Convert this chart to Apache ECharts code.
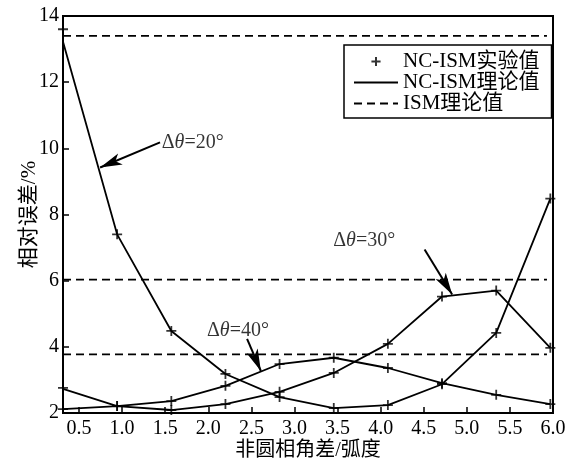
<!DOCTYPE html>
<html>
<head>
<meta charset="utf-8">
<script src="https://cdn.jsdelivr.net/npm/echarts@6/dist/echarts.min.js"></script>
<style>
  html, body { margin: 0; padding: 0; background: #fff; }
  #chart { width: 573px; height: 462px; }
</style>
</head>
<body>
<div id="chart"></div>
<script>
// Phase-angle difference of the non-circular part (rad)
const phaseDiff = [0.314, 0.942, 1.571, 2.199, 2.827, 3.456, 4.084, 4.712, 5.341, 5.969];

// NC-ISM theoretical relative error (%) for each angle step
const theory20 = [13.22, 7.40, 4.48, 3.18, 2.48, 2.15, 2.24, 2.87, 4.42, 8.48];
const theory30 = [2.12, 2.21, 2.09, 2.27, 2.64, 3.21, 4.09, 5.52, 5.70, 3.97];
const theory40 = [2.73, 2.21, 2.36, 2.82, 3.48, 3.67, 3.36, 2.90, 2.55, 2.27];

// NC-ISM measured relative error (%)
const exp20 = [13.60, 7.40, 4.48, 3.18, 2.48, 2.15, 2.24, 2.87, 4.42, 8.48];
const exp30 = [2.12, 2.21, 2.09, 2.27, 2.64, 3.21, 4.09, 5.52, 5.70, 3.97];
const exp40 = [2.76, 2.21, 2.36, 2.82, 3.48, 3.67, 3.36, 2.90, 2.55, 2.27];

// ISM theoretical relative error (%): 20°, 30°, 40°
const ismLevels = [13.4, 6.03, 3.77];
const ismSpan = [0.314, 5.93];

// Axis ticks
const xTicks = [0.5, 1.0, 1.5, 2.0, 2.5, 3.0, 3.5, 4.0, 4.5, 5.0, 5.5, 6.0];

// Angle-step callouts: label anchor, arrow tail, arrow head
const noteText = ['20°', '30°', '40°'];
const noteAnchor = [[1.46, 10.18], [3.45, 7.21], [1.985, 4.48]];
const arrowTail = [[1.44, 10.18], [4.51, 6.94], [2.45, 4.24]];
const arrowHead = [[0.745, 9.42], [4.83, 5.58], [2.61, 3.27]];

const SERIF = '"Liberation Serif", "Times New Roman", "Noto Sans CJK SC", serif';
const PLUS = 'path://M0,-5L0,5M-5,0L5,0';
const PLUS_LEGEND = 'path://M0,-4L0,4M-4,0L4,0M-7,-7M7,7';

const zip = (xs, ys) => xs.map((x, i) => [x, ys[i]]);

const theoryLine = data => ({
  name: 'NC-ISM理论值', type: 'line', data, showSymbol: false, symbol: 'none',
  lineStyle: { color: '#000', width: 1.8 }, itemStyle: { color: 'transparent' },
  z: 3, silent: true
});
const expPoints = data => ({
  name: 'NC-ISM实验值', type: 'scatter', data, symbol: PLUS, symbolSize: 10,
  itemStyle: { color: 'none', borderColor: '#000', borderWidth: 1.8 },
  z: 4, silent: true
});
const ismLine = v => ({
  name: 'ISM理论值', type: 'line', data: ismSpan.map(x => [x, v]),
  showSymbol: false, symbol: 'none',
  lineStyle: { color: '#000', width: 1.8, type: [8, 5] }, itemStyle: { color: 'transparent' },
  z: 2, silent: true
});

const chart = echarts.init(document.getElementById('chart'), null, { renderer: 'canvas' });
chart.setOption({
  backgroundColor: '#fff',
  animation: false,
  textStyle: { fontFamily: SERIF, color: '#000' },
  grid: {
    left: 63, right: 20, top: 16, bottom: 49,
    outerBoundsMode: 'none', containLabel: false,
    show: true, borderColor: '#000', borderWidth: 2, backgroundColor: 'transparent'
  },
  legend: {
    orient: 'vertical', left: 344, top: 45,
    padding: [6, 12, 4, 9], itemGap: 0,
    itemWidth: 44, itemHeight: 16, itemTextGap: 1,
    borderColor: '#000', borderWidth: 1.5, backgroundColor: '#fff',
    textStyle: { fontFamily: SERIF, fontSize: 21, color: '#000', lineHeight: 19 },
    data: [
      { name: 'NC-ISM实验值', icon: PLUS_LEGEND },
      { name: 'NC-ISM理论值' },
      { name: 'ISM理论值' }
    ],
    selectedMode: false
  },
  xAxis: {
    type: 'value', min: 0.314, max: 6.0,
    name: '非圆相角差/弧度', nameLocation: 'middle', nameGap: 28, nameMoveOverlap: false,
    nameTextStyle: { fontFamily: SERIF, fontSize: 20, color: '#000' },
    axisLine: { lineStyle: { color: '#000', width: 2 } },
    axisTick: { inside: true, length: 6, customValues: xTicks, lineStyle: { color: '#000', width: 1.5 } },
    axisLabel: {
      customValues: xTicks, margin: 6, fontSize: 20, color: '#000', fontFamily: SERIF,
      formatter: v => Number(v).toFixed(1)
    },
    splitLine: { show: false }
  },
  yAxis: {
    type: 'value', min: 2, max: 14, interval: 2,
    name: '相对误差/%', nameLocation: 'middle', nameGap: 23, nameRotate: 90, nameMoveOverlap: false,
    nameTextStyle: { fontFamily: SERIF, fontSize: 21, color: '#000' },
    axisLine: { lineStyle: { color: '#000', width: 2 } },
    axisTick: { inside: true, length: 6, lineStyle: { color: '#000', width: 1.5 } },
    axisLabel: { margin: 4, fontSize: 20, color: '#000', fontFamily: SERIF },
    splitLine: { show: false }
  },
  series: [
    ismLine(ismLevels[0]), ismLine(ismLevels[1]), ismLine(ismLevels[2]),
    theoryLine(zip(phaseDiff, theory20)),
    theoryLine(zip(phaseDiff, theory30)),
    theoryLine(zip(phaseDiff, theory40)),
    expPoints(zip(phaseDiff, exp20)),
    expPoints(zip(phaseDiff, exp30)),
    expPoints(zip(phaseDiff, exp40)),
    {
      name: 'callouts', type: 'scatter', symbolSize: 0, silent: true, z: 5,
      data: noteAnchor.map((p, i) => ({ value: p, note: noteText[i] })),
      label: {
        show: true, position: 'right', distance: 0, color: '#000',
        formatter: p => '{u|Δ}{i|θ}{u|=' + p.data.note + '}',
        rich: {
          u: { fontFamily: SERIF, fontSize: 20, color: '#000' },
          i: { fontFamily: SERIF, fontSize: 20, color: '#000', fontStyle: 'italic' }
        }
      },
      markLine: {
        silent: true, animation: false,
        symbol: ['none', 'arrow'], symbolSize: [9, 22],
        lineStyle: { color: '#000', width: 2, type: 'solid' },
        itemStyle: { color: '#000' },
        label: { show: false },
        data: arrowTail.map((t, i) => [{ coord: t }, { coord: arrowHead[i] }])
      }
    }
  ]
});
</script>
</body>
</html>
